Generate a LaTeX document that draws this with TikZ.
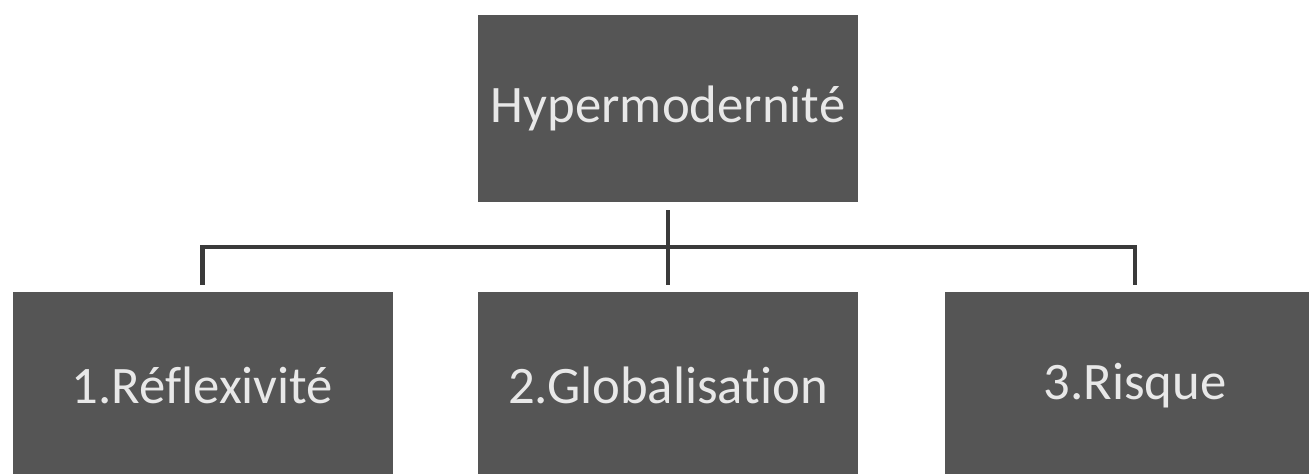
\documentclass[tikz,border=0pt]{standalone}
\usepackage{fontspec}
\setmainfont{Carlito}[Ligatures=NoCommon]
\usetikzlibrary{calc}

\definecolor{boxgray}{HTML}{555555}
\definecolor{txtgray}{HTML}{E8E8E8}
\definecolor{linegray}{HTML}{3A3A3A}

\begin{document}
\begin{tikzpicture}[
    box/.style={fill=boxgray, text=txtgray, minimum width=7.6cm,
        minimum height=3.74cm, inner sep=0pt, font=\fontsize{30}{34}\selectfont},
    link/.style={draw=linegray, line width=2.3pt, line cap=butt, line join=miter}
]

% --- Frame ---
\useasboundingbox (0,0) rectangle (26.18,-9.46);
\clip (0,0) rectangle (26.18,-9.46);

% --- Boxes ---
\node[box] (top)   at (13.36,-2.17) {Hypermodernité};
\node[box] (refl)  at (4.05,-7.71)  {1.Réflexivité};
\node[box] (glob)  at (13.36,-7.71) {2.Globalisation};
\node[box] (risk)  at (22.70,-7.71) {3.Risque};

% --- Connectors ---
\draw[link] ([yshift=-1.6mm]top.south) -- ([yshift=1.4mm]glob.north);
\draw[link] ([yshift=1.4mm]refl.north) -- ++(0,0.76) -| ([yshift=1.4mm]risk.north);

\end{tikzpicture}
\end{document}
